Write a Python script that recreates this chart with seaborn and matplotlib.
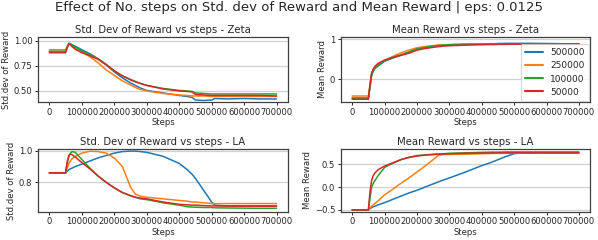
import matplotlib
matplotlib.use("Agg")
import matplotlib.pyplot as plt
import seaborn as sns
import pandas as pd

# ---------------- data ----------------
steps = [0, 50000, 55000, 60000, 65000, 70000, 80000, 100000, 125000, 150000,
         175000, 200000, 225000, 250000, 265000, 280000, 300000, 350000, 400000,
         425000, 440000, 450000, 475000, 500000, 510000, 550000, 600000, 650000, 700000]
labels = ["500000", "250000", "100000", "50000"]

zeta_std_500000 = [0.89, 0.89, 0.93, 0.975, 0.97, 0.96, 0.945, 0.91, 0.87, 0.82,
                   0.76, 0.69, 0.63, 0.58, 0.555, 0.53, 0.505, 0.48, 0.455,
                   0.445, 0.435, 0.41, 0.405, 0.41, 0.425, 0.42, 0.425, 0.42, 0.42]
zeta_std_250000 = [0.91, 0.91, 0.94, 0.97, 0.965, 0.95, 0.93, 0.89, 0.84, 0.78,
                   0.71, 0.655, 0.60, 0.56, 0.535, 0.515, 0.50, 0.475, 0.46,
                   0.455, 0.45, 0.45, 0.45, 0.445, 0.445, 0.445, 0.445, 0.445, 0.445]
zeta_std_100000 = [0.895, 0.895, 0.935, 0.97, 0.965, 0.955, 0.935, 0.90, 0.86, 0.82,
                   0.765, 0.70, 0.65, 0.615, 0.595, 0.575, 0.555, 0.525, 0.505,
                   0.50, 0.495, 0.48, 0.475, 0.47, 0.47, 0.47, 0.47, 0.47, 0.47]
zeta_std_50000 = [0.88, 0.88, 0.93, 0.965, 0.96, 0.94, 0.915, 0.88, 0.85, 0.815,
                  0.76, 0.70, 0.65, 0.61, 0.59, 0.575, 0.555, 0.52, 0.50,
                  0.495, 0.49, 0.465, 0.46, 0.455, 0.455, 0.455, 0.455, 0.455, 0.45]

zeta_mean_500000 = [-0.47, -0.47, -0.2, 0.1, 0.2, 0.27, 0.33, 0.45, 0.53, 0.6,
                    0.68, 0.76, 0.8, 0.83, 0.845, 0.855, 0.865, 0.875, 0.885,
                    0.89, 0.89, 0.895, 0.9, 0.9, 0.9, 0.9, 0.895, 0.89, 0.89]
zeta_mean_250000 = [-0.42, -0.42, -0.1, 0.15, 0.25, 0.3, 0.37, 0.47, 0.57, 0.66,
                    0.73, 0.79, 0.82, 0.845, 0.855, 0.86, 0.87, 0.88, 0.885,
                    0.885, 0.89, 0.89, 0.89, 0.89, 0.89, 0.89, 0.89, 0.89, 0.89]
zeta_mean_100000 = [-0.48, -0.48, -0.18, 0.12, 0.22, 0.28, 0.35, 0.46, 0.54, 0.61,
                    0.68, 0.76, 0.8, 0.83, 0.845, 0.855, 0.865, 0.875, 0.88,
                    0.885, 0.885, 0.89, 0.89, 0.89, 0.89, 0.89, 0.89, 0.89, 0.89]
zeta_mean_50000 = [-0.5, -0.5, -0.15, 0.15, 0.25, 0.32, 0.4, 0.48, 0.55, 0.6,
                   0.65, 0.73, 0.77, 0.8, 0.815, 0.83, 0.84, 0.855, 0.865,
                   0.87, 0.87, 0.875, 0.875, 0.88, 0.88, 0.88, 0.88, 0.88, 0.88]

la_std_500000 = [0.86, 0.86, 0.87, 0.88, 0.885, 0.89, 0.90, 0.915, 0.935, 0.955,
                 0.97, 0.985, 0.995, 0.998, 0.998, 0.995, 0.99, 0.965, 0.92,
                 0.88, 0.85, 0.825, 0.75, 0.675, 0.655, 0.65, 0.65, 0.65, 0.65]
la_std_250000 = [0.86, 0.86, 0.89, 0.92, 0.935, 0.95, 0.965, 0.985, 0.997, 0.995,
                 0.985, 0.955, 0.90, 0.77, 0.725, 0.712, 0.705, 0.695, 0.685,
                 0.68, 0.675, 0.675, 0.67, 0.665, 0.665, 0.665, 0.665, 0.665, 0.665]
la_std_100000 = [0.86, 0.86, 0.92, 0.96, 0.985, 0.995, 0.99, 0.945, 0.89, 0.84,
                 0.80, 0.765, 0.735, 0.715, 0.705, 0.695, 0.69, 0.67, 0.655,
                 0.645, 0.643, 0.642, 0.64, 0.64, 0.638, 0.637, 0.636, 0.635, 0.635]
la_std_50000 = [0.86, 0.86, 0.93, 0.97, 0.98, 0.975, 0.96, 0.925, 0.885, 0.84,
                0.80, 0.765, 0.735, 0.715, 0.705, 0.70, 0.695, 0.675, 0.66,
                0.657, 0.655, 0.655, 0.652, 0.65, 0.65, 0.649, 0.648, 0.648, 0.648]

la_mean_500000 = [-0.5, -0.5, -0.47, -0.45, -0.43, -0.42, -0.39, -0.34, -0.27, -0.2,
                  -0.13, -0.07, 0.0, 0.07, 0.11, 0.15, 0.2, 0.33, 0.47,
                  0.53, 0.57, 0.6, 0.67, 0.73, 0.74, 0.745, 0.745, 0.745, 0.745]
la_mean_250000 = [-0.5, -0.5, -0.45, -0.42, -0.39, -0.36, -0.3, -0.17, -0.05, 0.08,
                  0.2, 0.33, 0.46, 0.6, 0.69, 0.71, 0.715, 0.72, 0.73,
                  0.735, 0.74, 0.74, 0.74, 0.745, 0.745, 0.745, 0.75, 0.75, 0.75]
la_mean_100000 = [-0.5, -0.5, -0.25, 0.0, 0.08, 0.14, 0.25, 0.43, 0.52, 0.6,
                  0.65, 0.69, 0.705, 0.72, 0.725, 0.73, 0.74, 0.75, 0.76,
                  0.765, 0.765, 0.765, 0.77, 0.77, 0.77, 0.77, 0.77, 0.77, 0.77]
la_mean_50000 = [-0.5, -0.5, -0.1, 0.15, 0.25, 0.31, 0.38, 0.46, 0.53, 0.6,
                 0.65, 0.68, 0.7, 0.71, 0.72, 0.725, 0.73, 0.74, 0.745,
                 0.745, 0.748, 0.748, 0.75, 0.75, 0.75, 0.75, 0.75, 0.75, 0.75]

panels = [
    ("Std. Dev of Reward vs steps - Zeta", "Std.dev of Reward",
     [zeta_std_500000, zeta_std_250000, zeta_std_100000, zeta_std_50000],
     (0.39, 1.037), [0.50, 0.75, 1.00], ["0.50", "0.75", "1.00"]),
    ("Mean Reward vs steps - Zeta", "Mean Reward",
     [zeta_mean_500000, zeta_mean_250000, zeta_mean_100000, zeta_mean_50000],
     (-0.57, 1.06), [0, 1], ["0", "1"]),
    ("Std. Dev of Reward vs steps - LA", "Std.dev of Reward",
     [la_std_500000, la_std_250000, la_std_100000, la_std_50000],
     (0.612, 1.011), [0.8, 1.0], ["0.8", "1.0"]),
    ("Mean Reward vs steps - LA", "Mean Reward",
     [la_mean_500000, la_mean_250000, la_mean_100000, la_mean_50000],
     (-0.544, 0.833), [-0.5, 0.0, 0.5], ["\u22120.5", "0.0", "0.5"]),
]

# ---------------- style ----------------
sns.set_style("ticks", {"axes.edgecolor": ".25", "grid.color": ".82",
                        "xtick.color": ".15", "ytick.color": ".15"})
plt.rcParams["font.family"] = ["DejaVu Sans"]

fig = plt.figure(figsize=(5.98, 2.40), dpi=100)
boxes = [
    (0.0635, 0.575, 0.418, 0.271),
    (0.570, 0.575, 0.417, 0.271),
    (0.0635, 0.117, 0.418, 0.262),
    (0.570, 0.117, 0.417, 0.262),
]
palette = ["#1f77b4", "#ff7f0e", "#2ca02c", "#d62728"]

for i, (title, ylab, series, ylim, yt, ytl) in enumerate(panels):
    ax = fig.add_axes(boxes[i])
    rows = []
    for lab, vals in zip(labels, series):
        for s, v in zip(steps, vals):
            rows.append({"Steps": s, "value": v, "run": lab})
    df = pd.DataFrame(rows)
    sns.lineplot(data=df, x="Steps", y="value", hue="run", hue_order=labels,
                 palette=palette, linewidth=1.1, ax=ax, legend=(i == 1),
                 errorbar=None)
    ax.set_ylim(*ylim)
    ax.set_xlim(-35000, 735000)
    ax.set_yticks(yt)
    ax.set_yticklabels(ytl)
    ax.set_xticks([0, 100000, 200000, 300000, 400000, 500000, 600000, 700000])
    ax.set_xticklabels(["0", "100000", "200000", "300000", "400000",
                        "500000", "600000", "700000"])
    ax.grid(axis="y", linewidth=0.9)
    ax.grid(axis="x", visible=False)
    ax.tick_params(labelsize=6.1, length=2.5, width=0.7, pad=1.5)
    ax.set_title(title, fontsize=7.3, pad=3)
    ax.set_xlabel("Steps", fontsize=6.1, labelpad=1)
    ax.set_ylabel(ylab, fontsize=6.1, labelpad=2)
    for sp in ax.spines.values():
        sp.set_linewidth(0.9)
    if i == 1:
        leg = ax.legend(loc="lower right", fontsize=6.5, frameon=True,
                        borderaxespad=0.1, handlelength=2.0,
                        labelspacing=0.45, borderpad=0.5)
        leg.get_frame().set_edgecolor(".8")
        leg.get_frame().set_linewidth(0.8)
        for ln in leg.get_lines():
            ln.set_linewidth(1.5)

fig.suptitle("Effect of No. steps on Std. dev of Reward and Mean Reward | eps: 0.0125",
             fontsize=9.5, y=0.995)
fig.savefig("out.png", dpi=100)
